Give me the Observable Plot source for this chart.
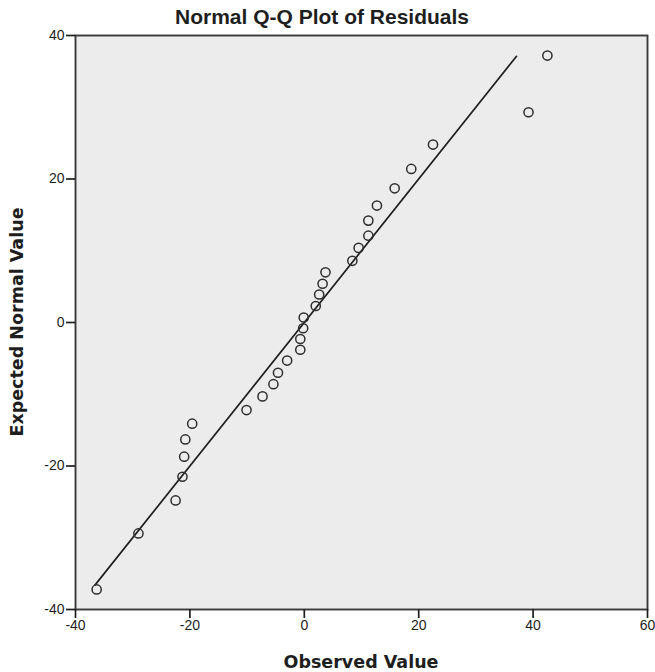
<!DOCTYPE html>
<html>
<head>
<meta charset="utf-8">
<script src="https://cdn.jsdelivr.net/npm/d3@7"></script>
<script src="https://cdn.jsdelivr.net/npm/@observablehq/plot@0.6"></script>
<style>
  html, body { margin: 0; padding: 0; background: #ffffff; }
  #chart svg { display: block; }
</style>
</head>
<body>
<div id="chart"></div>
<script>
// Observed residuals (x) and expected normal values (y)
const observed = [-36.3, -29.0, -22.5, -21.3, -21.0, -20.8, -19.6, -10.1, -7.3, -5.4,
                  -4.6, -3.0, -0.7, -0.7, -0.2, -0.1, 2.0, 2.6, 3.2, 3.7,
                  8.4, 9.5, 11.2, 11.2, 12.7, 15.8, 18.7, 22.5, 39.2, 42.5];
const expected = [-37.2, -29.4, -24.8, -21.5, -18.7, -16.3, -14.1, -12.2, -10.3, -8.6,
                  -7.0, -5.3, -3.8, -2.3, -0.8, 0.7, 2.3, 3.9, 5.4, 7.0,
                  8.6, 10.4, 12.1, 14.2, 16.3, 18.7, 21.4, 24.8, 29.3, 37.2];
// Reference line y = x, drawn between these values
const refLine = [-36.6, 37.1];
const xTicks = [-40, -20, 0, 20, 40, 60];
const yTicks = [-40, -20, 0, 20, 40];
const titleText = "Normal Q-Q Plot of Residuals";
const xLabel = "Observed Value";
const yLabel = "Expected Normal Value";

const points = observed.map((x, i) => ({x, y: expected[i]}));

const W = 655, H = 672;
const mL = 75, mR = 8, mT = 35, mB = 63;
const fmt = d => String(d);

const plot = Plot.plot({
  width: W,
  height: H,
  marginLeft: mL,
  marginRight: mR,
  marginTop: mT,
  marginBottom: mB,
  style: {fontFamily: "'Liberation Sans', Arial, sans-serif", fontSize: "14px", color: "#1e1e1e", background: "#ffffff"},
  x: {domain: [-40, 60], label: null},
  y: {domain: [-40, 40], label: null},
  marks: [
    Plot.frame({fill: "#ececec", stroke: "none"}),
    Plot.line(refLine, {x: d => d, y: d => d, stroke: "#1e1e1e", strokeWidth: 1.7}),
    Plot.dot(points, {x: "x", y: "y", r: 4.6, stroke: "#2e2e2e", strokeWidth: 1.5, fill: "none"}),
    Plot.frame({stroke: "#3a3a3a", strokeWidth: 1.9}),
    Plot.axisX({ticks: xTicks, tickFormat: fmt, tickSize: 9, tickPadding: 2, stroke: "#1e1e1e", strokeWidth: 1.7, strokeOpacity: 1, fontSize: 14, label: null}),
    Plot.axisY({ticks: yTicks, tickFormat: fmt, tickSize: 9, tickPadding: 2, stroke: "#1e1e1e", strokeWidth: 1.7, strokeOpacity: 1, fontSize: 14, label: null})
  ]
});

document.getElementById("chart").appendChild(plot);

const svg = d3.select(plot);
svg.append("text")
  .attr("x", 322).attr("y", 24)
  .attr("text-anchor", "middle")
  .style("font-family", "'Liberation Sans', Arial, sans-serif")
  .style("font-weight", "bold")
  .style("font-size", "21px")
  .style("fill", "#1e1e1e")
  .text(titleText);

svg.append("text")
  .attr("x", (mL + W - mR) / 2).attr("y", 668)
  .attr("text-anchor", "middle")
  .style("font-family", "'DejaVu Sans', sans-serif")
  .style("font-weight", "bold")
  .style("font-size", "17.5px")
  .style("fill", "#1e1e1e")
  .text(xLabel);

svg.append("text")
  .attr("transform", `translate(23, ${(mT + H - mB) / 2}) rotate(-90)`)
  .attr("text-anchor", "middle")
  .style("font-family", "'DejaVu Sans', sans-serif")
  .style("font-weight", "bold")
  .style("font-size", "17.5px")
  .style("fill", "#1e1e1e")
  .text(yLabel);
</script>
</body>
</html>
